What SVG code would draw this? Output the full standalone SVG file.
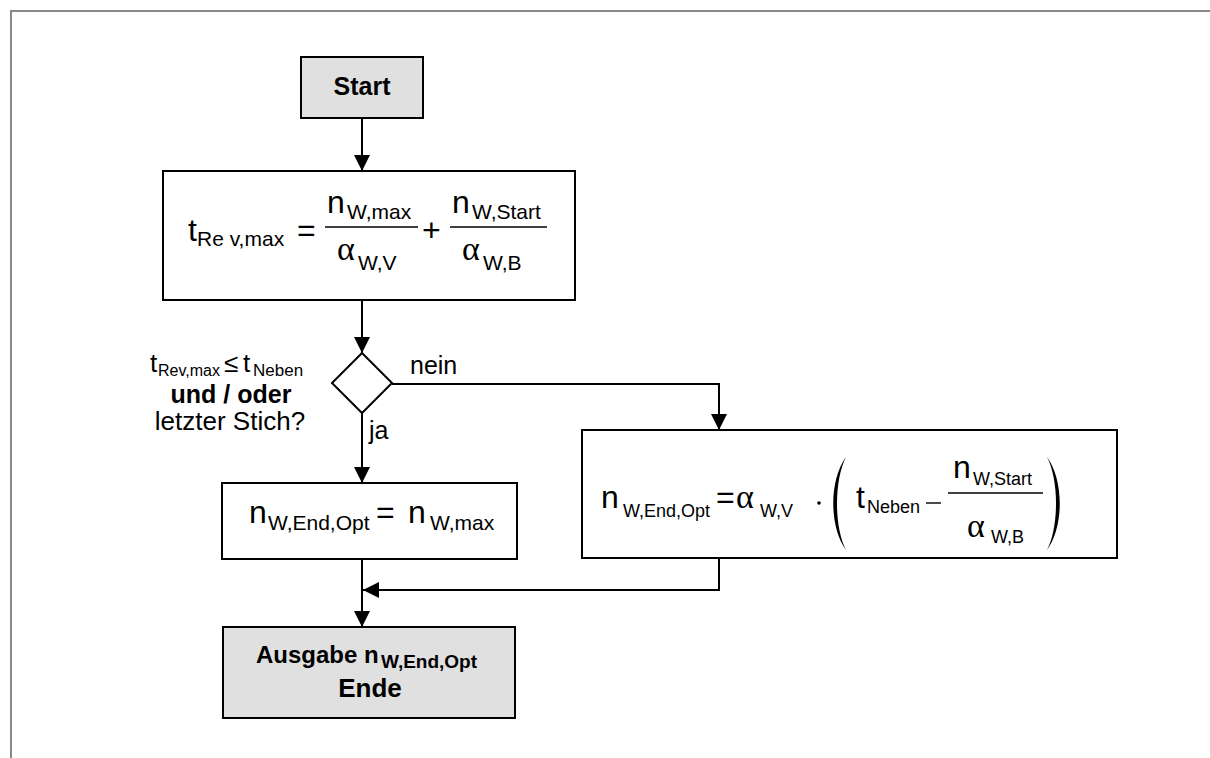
<svg xmlns="http://www.w3.org/2000/svg" width="1210" height="758" viewBox="0 0 1210 758">
  <defs>
    <marker id="arrow" markerUnits="userSpaceOnUse" markerWidth="16" markerHeight="16" viewBox="0 0 16 16" refX="16" refY="8" orient="auto">
      <path d="M0,0 L16,8 L0,16 Z" fill="#000"/>
    </marker>
    <style>
      .box { fill: #fff; stroke: #000; stroke-width: 2; }
      .term { fill: #e0e0e0; stroke: #000; stroke-width: 2; }
      .edge { fill: none; stroke: #000; stroke-width: 2; }
      .bar { stroke: #000; stroke-width: 1.4; }
      text { font-family: "Liberation Sans", Arial, sans-serif; fill: #000; }
      .m { font-size: 32px; }
      .s { font-size: 21px; }
      .s2 { font-size: 18px; }
      .g { font-family: "Liberation Serif", "Times New Roman", serif; font-size: 34px; }
      .lbl { font-size: 26px; }
      .b { font-weight: bold; }
    </style>
  </defs>

  <!-- frame -->
  <path d="M11,758 V11 H1210" fill="none" stroke="#888" stroke-width="2"/>

  <!-- connectors -->
  <g id="connectors">
    <path class="edge" d="M362,118 V171" marker-end="url(#arrow)"/>
    <path class="edge" d="M362,300 V353" marker-end="url(#arrow)"/>
    <path class="edge" d="M392,384 H719 V430" marker-end="url(#arrow)"/>
    <path class="edge" d="M362,413 V483" marker-end="url(#arrow)"/>
    <path class="edge" d="M362,559 V627" marker-end="url(#arrow)"/>
    <path class="edge" d="M719,558 V590 H363" marker-end="url(#arrow)"/>
    <text x="410" y="374" font-size="25">nein</text>
    <text x="369" y="439" font-size="25">ja</text>
  </g>

  <!-- Start -->
  <g id="start">
    <rect class="term" x="301" y="57" width="122" height="61"/>
    <text class="b" x="362" y="95" text-anchor="middle" font-size="25">Start</text>
  </g>

  <!-- revision time -->
  <g id="calc-trev">
    <rect class="box" x="163" y="171" width="412" height="129"/>
    <text class="m" x="188" y="241">t<tspan class="s" x="197" y="246">Re v,max</tspan></text>
    <text class="m" x="297" y="241">=</text>
    <line class="bar" x1="325" y1="227" x2="418" y2="227"/>
    <text class="m" x="327" y="213">n<tspan class="s" x="347" y="219">W,max</tspan></text>
    <text class="g" x="337" y="260">α<tspan class="s" x="358" y="270" font-family="Liberation Sans, Arial, sans-serif">W,V</tspan></text>
    <text class="m" x="422" y="241">+</text>
    <line class="bar" x1="450" y1="227" x2="547" y2="227"/>
    <text class="m" x="452" y="213">n<tspan class="s" x="472" y="219">W,Start</tspan></text>
    <text class="g" x="462" y="260">α<tspan class="s" x="483" y="270" font-family="Liberation Sans, Arial, sans-serif">W,B</tspan></text>
  </g>

  <!-- decision -->
  <g id="decision">
    <path class="box" d="M362,353 L392,383 L362,413 L332,383 Z"/>
    <text class="lbl" x="150" y="372">t<tspan x="158" y="376" font-size="16">Rev,max</tspan><tspan x="224" y="372">≤</tspan><tspan x="243" y="372">t</tspan><tspan x="253" y="376" font-size="17">Neben</tspan></text>
    <text class="b" x="231" y="403" text-anchor="middle" font-size="25">und / oder</text>
    <text class="lbl" x="230" y="430" text-anchor="middle">letzter Stich?</text>
  </g>

  <!-- yes branch -->
  <g id="set-max">
    <rect class="box" x="222" y="483" width="295" height="76"/>
    <text class="m" x="249" y="523">n<tspan class="s" x="268" y="530">W,End,Opt</tspan></text>
    <text class="m" x="376" y="523">=</text>
    <text class="m" x="408" y="523">n<tspan class="s" x="430" y="530">W,max</tspan></text>
  </g>

  <!-- no branch -->
  <g id="set-calc">
    <rect class="box" x="582" y="430" width="535" height="128"/>
    <text class="m" x="601" y="508">n<tspan class="s2" x="623" y="517">W,End,Opt</tspan></text>
    <text class="m" x="716" y="508">=</text>
    <text class="g" x="736" y="508">α<tspan class="s2" x="760" y="517" font-family="Liberation Sans, Arial, sans-serif">W,V</tspan></text>
    <circle cx="819" cy="503" r="1.8" fill="#000"/>
    <path d="M846,457 C829,480 829,527 846,550 C834,527 834,480 846,457 Z" fill="#000"/>
    <text class="m" x="856" y="508">t<tspan class="s2" x="867" y="513">Neben</tspan></text>
    <line class="bar" x1="926" y1="503" x2="941" y2="503"/>
    <line class="bar" x1="948" y1="493" x2="1043" y2="493"/>
    <text class="m" x="953" y="478">n<tspan class="s2" x="973" y="485">W,Start</tspan></text>
    <text class="g" x="967" y="537">α<tspan class="s2" x="991" y="543" font-family="Liberation Sans, Arial, sans-serif">W,B</tspan></text>
    <path d="M1047,457 C1064,480 1064,527 1047,550 C1059,527 1059,480 1047,457 Z" fill="#000"/>
  </g>

  <!-- output / end -->
  <g id="end">
    <rect class="term" x="223" y="627" width="292" height="91"/>
    <text class="b" x="256" y="663" font-size="24">Ausgabe n<tspan x="381" y="668" font-size="19">W,End,Opt</tspan></text>
    <text class="b" x="370" y="697" text-anchor="middle" font-size="26">Ende</text>
  </g>
</svg>
